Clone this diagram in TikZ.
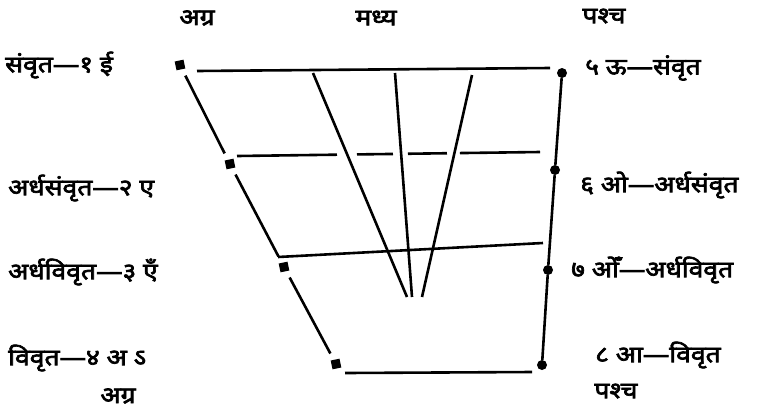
\documentclass[tikz,border=0pt]{standalone}
\usepackage{fontspec}
\newfontfamily\deva[Script=Devanagari,FakeBold=3,FakeStretch=1.15]{Noto Sans}
\usetikzlibrary{positioning}
\tikzset{
  fdot/.style={fill,rectangle,minimum size=9pt,inner sep=0pt,rotate=12},
  bdot/.style={fill,circle,minimum size=10pt,inner sep=0pt},
  lbl/.style={font=\deva\fontsize{23}{23}\selectfont,inner sep=0pt},
  chart/.style={line width=2.6pt},
  side/.style={chart,shorten <=7pt,shorten >=7pt}
}

\begin{document}
\begin{tikzpicture}[x=1pt,y=-1pt]
\useasboundingbox (0,0) rectangle (759,413);

% front and back points
\node[fdot] (f1) at (180,65) {};
\node[fdot] (f2) at (230,164) {};
\node[fdot] (f3) at (284,267) {};
\node[fdot] (f4) at (336,364) {};
\node[bdot] (b1) at (562,73) {};
\node[bdot] (b2) at (555,170) {};
\node[bdot] (b3) at (548,270) {};
\node[bdot] (b4) at (542,365) {};

% headings
\node[lbl] (agra) at (197,18) {अग्र};
\node[lbl] (madhya) at (376,18) {मध्य};
\node[lbl] (pashch) at (604,16) {पश्च};

% left side
\node[lbl,anchor=west] (l1) at (5,65) {संवृत—१ ई};
\node[lbl,anchor=west] (l2) at (8,188) {अर्धसंवृत—२ ए};
\node[lbl,anchor=west] (l3) at (8,272) {अर्धविवृत—३ एँ};
\node[lbl,anchor=west] (l4) at (8,358) {विवृत—४ अ ऽ};
\node[lbl] (agralow) at (118,396) {अग्र};

% right side
\node[lbl,anchor=west] (r1) at (585,68) {५ ऊ—संवृत};
\node[lbl,anchor=west] (r2) at (580,185) {६ ओ—अर्धसंवृत};
\node[lbl,anchor=west] (r3) at (571,270) {७ ओँ—अर्धविवृत};
\node[lbl,anchor=west] (r4) at (595,355) {८ आ—विवृत};
\node[lbl] (pashchlow) at (616,391) {पश्च};

% front and back edges
\draw[side] (f1) -- (f2);
\draw[side] (f2) -- (f3);
\draw[side] (f3) -- (f4);
\draw[chart] (b1) -- (b2) -- (b3) -- (b4);

% levels
\coordinate (h1a) at (197,71);
\coordinate (h1b) at (550,68);
\coordinate (h2a) at (237,156);
\coordinate (h2b) at (540,152);
\coordinate (h3a) at (278,257);
\coordinate (h3b) at (543,243);
\coordinate (h4a) at (345,373);
\coordinate (h4b) at (532,372);
\draw[chart] (h1a) -- (h1b);
\draw[chart,dash pattern=on 100pt off 20pt on 36pt off 15pt on 39pt off 13pt on 90pt off 10pt] (h2a) -- (h2b);
\draw[chart] (h3a) -- (h3b);
\draw[chart] (h4a) -- (h4b);

% centre
\coordinate (m1a) at (313,73);
\coordinate (m1b) at (407,297);
\coordinate (m2a) at (395,73);
\coordinate (m2b) at (412,297);
\coordinate (m3a) at (472,75);
\coordinate (m3b) at (422,297);
\draw[chart] (m1a) -- (m1b);
\draw[chart] (m2a) -- (m2b);
\draw[chart] (m3a) -- (m3b);

\end{tikzpicture}
\end{document}
